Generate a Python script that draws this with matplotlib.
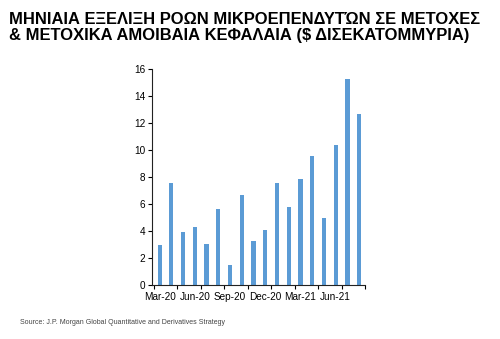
import matplotlib
matplotlib.use('Agg')
import matplotlib.pyplot as plt
import numpy as np

# monthly flows, Mar-20 .. Aug-21
months = ['Mar-20', 'Apr-20', 'May-20', 'Jun-20', 'Jul-20', 'Aug-20',
          'Sep-20', 'Oct-20', 'Nov-20', 'Dec-20', 'Jan-21', 'Feb-21',
          'Mar-21', 'Apr-21', 'May-21', 'Jun-21', 'Jul-21', 'Aug-21']
flows = [2.95, 7.6, 3.95, 4.3, 3.05, 5.65, 1.5, 6.65, 3.25,
         4.1, 7.55, 5.8, 7.85, 9.55, 5.0, 10.4, 15.25, 12.65]
yticks = [0, 2, 4, 6, 8, 10, 12, 14, 16]

title = ('ΜΗΝΙΑΙΑ ΕΞΕΛΙΞΗ ΡΟΩΝ ΜΙΚΡΟΕΠΕΝΔΥΤΏΝ ΣΕ ΜΕΤΟΧΕΣ\n'
         '& ΜΕΤΟΧΙΚΑ ΑΜΟΙΒΑΙΑ ΚΕΦΑΛΑΙΑ ($ ΔΙΣΕΚΑΤΟΜΜΥΡΙΑ)')
source = 'Source: J.P. Morgan Global Quantitative and Derivatives Strategy'

plt.rcParams['font.family'] = ['Liberation Sans', 'DejaVu Sans']

fig = plt.figure(figsize=(5.0, 3.39), dpi=100)
ax = fig.add_axes([0.304, 0.159, 0.426, 0.637])

x = np.arange(len(flows))
ax.bar(x, flows, width=0.36, color='#5B9BD5', zorder=2)

ax.set_xlim(-0.65, 17.5)
ax.set_ylim(0, 16)
ax.set_yticks(yticks)
lab_idx = list(range(0, len(months), 3))
ax.set_xticks(lab_idx)
ax.set_xticklabels([months[i] for i in lab_idx])
ax.set_xticks(np.arange(-0.5, 18, 2), minor=True)
ax.tick_params(axis='x', which='major', length=0, labelsize=7.2, pad=5)
ax.tick_params(axis='x', which='minor', length=3, width=0.8, direction='out')
ax.tick_params(axis='y', labelsize=7.2, length=3, width=0.8, pad=2)

for s in ['top', 'right']:
    ax.spines[s].set_visible(False)
for s in ['left', 'bottom']:
    ax.spines[s].set_linewidth(0.8)
    ax.spines[s].set_color('#222222')

fig.text(0.018, 0.965, title, fontsize=11.9, va='top', ha='left',
         linespacing=1.1, fontweight='bold')
fig.text(0.04, 0.05, source, fontsize=5.0, color='#444444',
         va='center', ha='left')

fig.savefig('out.png', dpi=100)
